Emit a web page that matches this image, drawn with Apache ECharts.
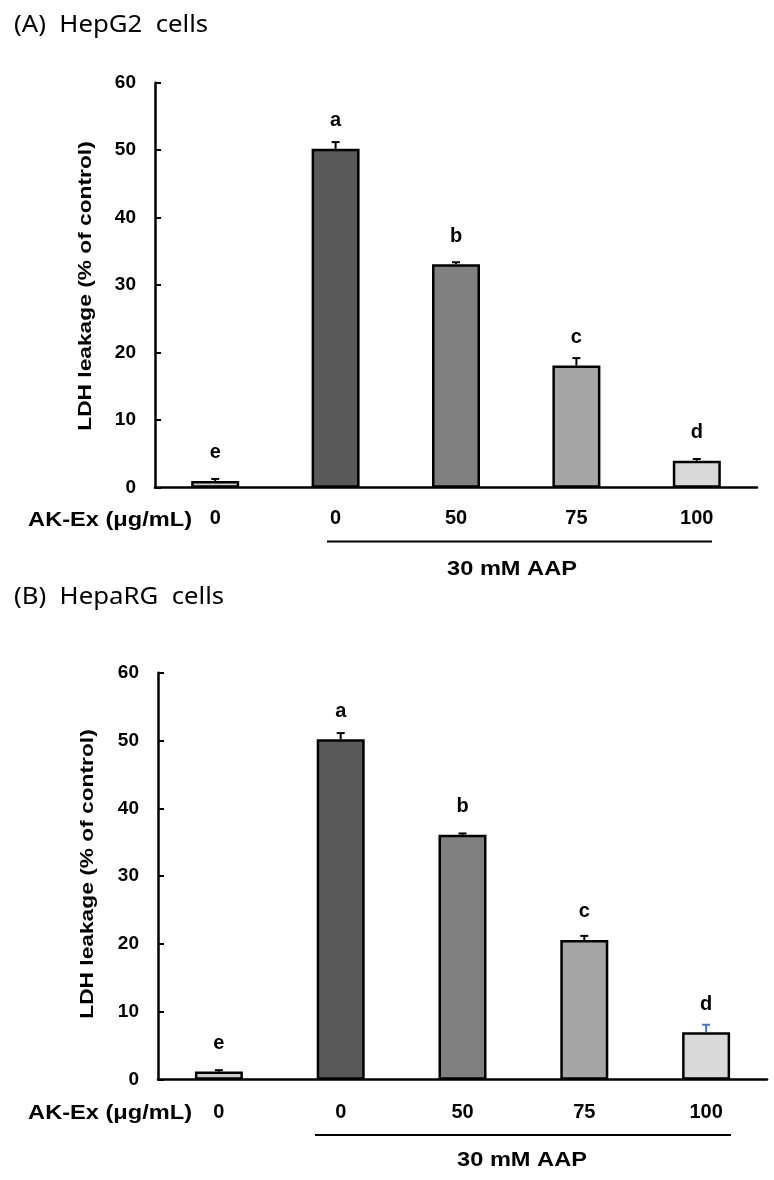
<!DOCTYPE html>
<html><head><meta charset="utf-8">
<script src="https://cdn.jsdelivr.net/npm/echarts@6/dist/echarts.min.js"></script>
<style>html,body{margin:0;padding:0;background:#fff}#chart{width:774px;height:1180px}</style>
</head><body><div id="chart"></div>
<script>
const groups = ['Control', 'AAP', 'AAP + AK-Ex 50', 'AAP + AK-Ex 75', 'AAP + AK-Ex 100'];
const doseLabels = ['0', '0', '50', '75', '100'];
const hepg2Values = [1.0, 50.2, 33.1, 18.1, 4.0];
const hepg2Errors = [0.3, 1.0, 0.3, 1.1, 0.25];
const hepg2Letters = ['e', 'a', 'b', 'c', 'd'];
const hepargValues = [1.2, 50.2, 36.1, 20.6, 7.0];
const hepargErrors = [0.2, 0.9, 0.2, 0.6, 1.1];
const hepargLetters = ['e', 'a', 'b', 'c', 'd'];
const barColors = ['#cdcdcd', '#595959', '#808080', '#a6a6a6', '#d9d9d9'];
const errColorsA = ['#000', '#000', '#000', '#000', '#000'];
const errColorsB = ['#000', '#000', '#000', '#000', '#4a76b8'];

const BOLD = '"Liberation Sans", Arial, Helvetica, sans-serif';
const chart = echarts.init(document.getElementById('chart'), null, {renderer: 'canvas'});

function errRender(colors) {
  return function (params, api) {
    const i = api.value(0), v = api.value(1), e = api.value(2);
    const base = api.coord([i, v]);
    const top = api.coord([i, v + e]);
    const c = colors[params.dataIndex];
    const hw = 4;
    return {type: 'group', children: [
      {type: 'line', shape: {x1: top[0], y1: base[1], x2: top[0], y2: top[1]}, style: {stroke: c, lineWidth: 2}},
      {type: 'line', shape: {x1: top[0] - hw, y1: top[1], x2: top[0] + hw, y2: top[1]}, style: {stroke: c, lineWidth: 2}}
    ]};
  };
}

function xAxis(gi, margin) {
  return {
    type: 'category', gridIndex: gi, data: groups, boundaryGap: true,
    axisLine: {lineStyle: {color: '#000', width: 2.5}},
    axisTick: {inside: true, length: 6, lineStyle: {color: '#000', width: 2}},
    axisLabel: {formatter: (v, idx) => doseLabels[idx], color: '#000', fontFamily: BOLD, fontWeight: 'bold', fontSize: 20, margin: margin, interval: 0},
    splitLine: {show: false}
  };
}
function yAxis(gi) {
  return {
    type: 'value', gridIndex: gi, min: 0, max: 60, interval: 10,
    axisLine: {show: true, lineStyle: {color: '#000', width: 2.5}},
    axisTick: {show: true, inside: true, length: 6, lineStyle: {color: '#000', width: 2}},
    axisLabel: {color: '#000', fontFamily: BOLD, fontWeight: 'bold', fontSize: 19, margin: 19},
    splitLine: {show: false}
  };
}
function barSeries(gi, values, letters) {
  return {
    type: 'bar', xAxisIndex: gi, yAxisIndex: gi, barWidth: 48,
    data: values.map((v, i) => ({value: v, itemStyle: {color: barColors[i]}})),
    itemStyle: {borderColor: '#000', borderWidth: 2.5},
    label: {show: true, position: 'top', distance: 18, formatter: p => letters[p.dataIndex],
      color: '#000', fontFamily: BOLD, fontWeight: 'bold', fontSize: 20},
    silent: true, animation: false
  };
}
function errSeries(gi, values, errs, colors) {
  return {
    type: 'custom', xAxisIndex: gi, yAxisIndex: gi, z: 5,
    renderItem: errRender(colors),
    data: values.map((v, i) => [i, v, errs[i]]),
    silent: true, animation: false
  };
}
function yTitle(cx, cy) {
  return {type: 'text', x: cx, y: cy, rotation: Math.PI / 2, scaleX: 1.3,
    style: {text: 'LDH leakage (% of control)', align: 'center', verticalAlign: 'middle',
      font: 'bold 17.5px ' + BOLD, fill: '#000'}};
}
function hText(txt, x, y, size, align, sx, font) {
  return {type: 'text', x: x, y: y, scaleX: sx,
    style: {text: txt, align: align, verticalAlign: 'middle', font: font || ('bold ' + size + 'px ' + BOLD), fill: '#000'}};
}

const titleFont = '"Noto Sans", "Open Sans", sans-serif';
const option = {
  animation: false,
  backgroundColor: '#fff',
  grid: [
    {left: 155, top: 82.7, width: 602, height: 405},
    {left: 158, top: 672.7, width: 609, height: 407}
  ],
  xAxis: [xAxis(0, 21), xAxis(1, 23)],
  yAxis: [yAxis(0), yAxis(1)],
  series: [
    barSeries(0, hepg2Values, hepg2Letters),
    errSeries(0, hepg2Values, hepg2Errors, errColorsA),
    barSeries(1, hepargValues, hepargLetters),
    errSeries(1, hepargValues, hepargErrors, errColorsB)
  ],
  graphic: [
    hText('(A)  HepG2  cells', 14, 25, 0, 'left', 1.12, '23px ' + titleFont),
    hText('(B)  HepaRG  cells', 14, 597, 0, 'left', 1.12, '23px ' + titleFont),
    yTitle(86, 286),
    yTitle(88, 874),
    hText('AK-Ex (μg/mL)', 192, 520, 20, 'right', 1.18),
    hText('AK-Ex (μg/mL)', 192, 1113, 20, 'right', 1.18),
    {type: 'line', shape: {x1: 327, y1: 541.5, x2: 712, y2: 541.5}, style: {stroke: '#000', lineWidth: 2}},
    {type: 'line', shape: {x1: 315, y1: 1135, x2: 731, y2: 1135}, style: {stroke: '#000', lineWidth: 2}},
    hText('30 mM AAP', 512, 569, 20, 'center', 1.18),
    hText('30 mM AAP', 522, 1160, 20, 'center', 1.18)
  ]
};
chart.setOption(option);
</script>
</body></html>
